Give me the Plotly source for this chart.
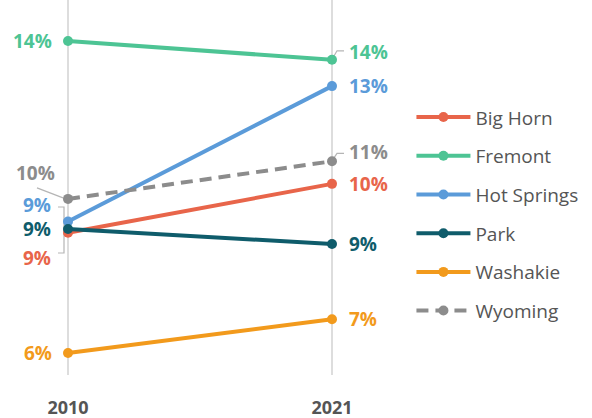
import plotly.graph_objects as go

# Share of population, by county (percent)
years = [2010, 2021]
counties = ["Big Horn", "Fremont", "Hot Springs", "Park", "Washakie", "Wyoming"]
big_horn = [9.1, 10.4]
fremont = [14.2, 13.7]
hot_springs = [9.4, 13.0]
park = [9.2, 8.8]
washakie = [5.9, 6.8]
wyoming = [10.0, 11.0]

series = [big_horn, fremont, hot_springs, park, washakie, wyoming]
colors = ["#E8654A", "#4DC494", "#5B9BD9", "#0F5C6B", "#F29A1C", "#8C8C8C"]
dashes = ["solid"] * 5 + ["12px,7px"]

FONT = "Open Sans"
LEADER = "#B5B5B5"
LABEL_SIZE = 19

fig = go.Figure()
for i, (name, vals, col, dsh) in enumerate(zip(counties, series, colors, dashes)):
    fig.add_trace(go.Scatter(
        x=years, y=vals, name=name, mode="lines+markers",
        line=dict(color=col, width=4, dash=dsh),
        marker=dict(color=col, size=10),
        legendgroup=f"g{i}",
        hoverinfo="skip",
    ))

# End labels: pixel offsets from the point for the start and end values
left_shift = {"Big Horn": -25, "Fremont": 0, "Hot Springs": 16,
              "Park": 0, "Washakie": 0, "Wyoming": 26}
right_shift = {"Big Horn": 0, "Fremont": 8, "Hot Springs": 0,
               "Park": 0, "Washakie": 0, "Wyoming": 9}
left_x = {"Wyoming": -12, "Fremont": -15, "Washakie": -15}
# the three stacked 9% labels sit close together, so their boxes are kept tight
tight = {"Big Horn", "Hot Springs", "Park"}

for name, vals, col in zip(counties, series, colors):
    fig.add_annotation(
        x=years[0], y=vals[0], text=f"{round(vals[0])}%", showarrow=False,
        xanchor="right", yanchor="middle",
        xshift=left_x.get(name, -16), yshift=left_shift[name],
        height=20 if name in tight else None, borderpad=0,
        font=dict(family=FONT, size=LABEL_SIZE, color=col, weight=700),
    )
    fig.add_annotation(
        x=years[1], y=vals[1], text=f"{round(vals[1])}%", showarrow=False,
        xanchor="left", yanchor="middle",
        xshift=15, yshift=right_shift[name],
        font=dict(family=FONT, size=LABEL_SIZE, color=col, weight=700),
    )

# Leader lines for the offset labels (pixel paths anchored at the points)
def leader(xa, ya, path):
    fig.add_shape(type="path", xref="x", yref="y", xsizemode="pixel", ysizemode="pixel",
                  xanchor=xa, yanchor=ya, path=path,
                  line=dict(color=LEADER, width=1.2), layer="below")

leader(years[0], wyoming[0], "M-31,11 L-5,1")
leader(years[0], park[0], "M-10,22 L-4,22 L-4,-24 L-10,-24")
leader(years[1], fremont[1], "M1,2 L5,9 L12,9")
leader(years[1], wyoming[1], "M1,2 L5,8 L12,8")

fig.update_layout(
    width=592, height=418,
    margin=dict(l=0, r=192, t=0, b=43),
    paper_bgcolor="white", plot_bgcolor="white",
    font=dict(family=FONT, color="#555555"),
    showlegend=True,
    legend=dict(
        xref="container", yref="container",
        x=0.695, y=0.765, xanchor="left", yanchor="top",
        font=dict(family=FONT, size=19, color="#555555"),
        itemwidth=54, tracegroupgap=11, traceorder="grouped",
        bgcolor="rgba(0,0,0,0)", maxheight=400,
    ),
    xaxis=dict(
        range=[2007.1667, 2023.8333], tickvals=years, ticktext=[str(y) for y in years],
        showgrid=True, gridcolor="#DDDDDD", gridwidth=1.5, zeroline=False,
        showline=False, ticks="outside", ticklen=16, tickcolor="rgba(0,0,0,0)",
        tickfont=dict(family=FONT, size=18, color="#555555", weight=700),
        fixedrange=True,
    ),
    yaxis=dict(
        range=[5.317, 15.29], showgrid=False, zeroline=False,
        showticklabels=False, showline=False, fixedrange=True,
    ),
)

fig.write_html("out.html")
